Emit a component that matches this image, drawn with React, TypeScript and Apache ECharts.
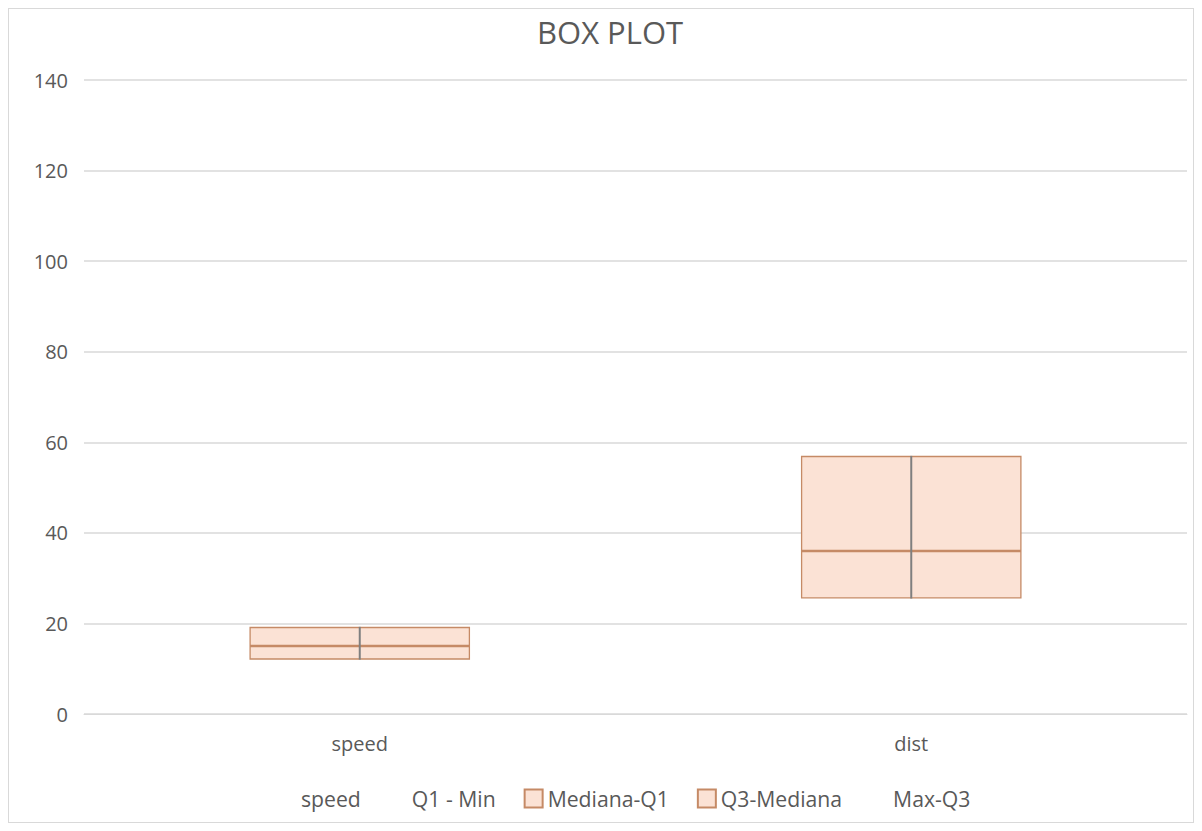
import React, { useEffect, useRef } from "react";
import * as echarts from "echarts";

const categories = ["speed", "dist"];
const minVals = [4, 2];
const q1MinusMin = [8, 23.5];
const medianMinusQ1 = [3, 10.5];
const q3MinusMedian = [4.25, 21];
const maxMinusQ3 = [5.75, 63];
const legendNames = ["speed", "Q1 - Min", "Mediana-Q1", "Q3-Mediana", "Max-Q3"];
const yTicks = { min: 0, max: 140, interval: 20 };

const FONT = "'Open Sans', 'Noto Sans', sans-serif";
const TEXT = "#595959";
const FILL = "#fbe2d5";
const EDGE = "#c58a66";

export default function App() {
  const ref = useRef<HTMLDivElement>(null);
  useEffect(() => {
    if (!ref.current) return;
    const chart = echarts.init(ref.current, undefined, { renderer: "svg" });
    const q1 = minVals.map((m, i) => m + q1MinusMin[i]);
    const q3 = q1.map((v, i) => v + medianMinusQ1[i] + q3MinusMedian[i]);
    const lineData = categories.map((_, i) => [i, q1[i], q3[i]]);
    const hidden = { color: "transparent", borderColor: "transparent" };
    const boxStyle = { color: FILL, borderColor: EDGE, borderWidth: 1.3 };
    const bar = (name: string, data: number[], style: any) => ({
      name,
      type: "bar",
      stack: "box",
      data,
      barWidth: "40%",
      itemStyle: style,
      emphasis: { disabled: true },
    });
    chart.setOption({
      animation: false,
      textStyle: { fontFamily: FONT },
      title: {
        text: "BOX PLOT",
        left: 523,
        top: 2,
        textStyle: { fontFamily: FONT, fontSize: 31, fontWeight: "normal", color: TEXT },
      },
      legend: {
        data: legendNames,
        bottom: 8,
        left: 264,
        icon: "rect",
        itemWidth: 18,
        itemHeight: 18,
        itemGap: 28,
        textStyle: { fontFamily: FONT, fontSize: 21.2, color: TEXT },
      },
      grid: { left: 75, right: 6, top: 71, bottom: 108 },
      xAxis: {
        type: "category",
        data: categories,
        axisLine: { show: true, lineStyle: { color: "#d9d9d9" } },
        axisTick: { show: false },
        axisLabel: { fontFamily: FONT, fontSize: 20, color: TEXT, margin: 19 },
      },
      yAxis: {
        type: "value",
        min: yTicks.min,
        max: yTicks.max,
        interval: yTicks.interval,
        axisLine: { show: false },
        axisTick: { show: false },
        splitLine: { lineStyle: { color: "#d9d9d9", width: 1.5 } },
        axisLabel: { fontFamily: FONT, fontSize: 20, color: TEXT, margin: 16 },
      },
      series: [
        bar("speed", minVals, hidden),
        bar("Q1 - Min", q1MinusMin, hidden),
        bar("Mediana-Q1", medianMinusQ1, boxStyle),
        bar("Q3-Mediana", q3MinusMedian, boxStyle),
        bar("Max-Q3", maxMinusQ3, hidden),
        {
          type: "custom",
          name: "iqr-line",
          data: lineData,
          z: 5,
          encode: { x: 0, y: [1, 2] },
          renderItem: (params: any, api: any) => {
            const a = api.coord([api.value(0), api.value(1)]);
            const b = api.coord([api.value(0), api.value(2)]);
            return {
              type: "line",
              shape: { x1: a[0], y1: a[1], x2: b[0], y2: b[1] },
              style: { stroke: "#7f7f7f", lineWidth: 2 },
            };
          },
        },
      ],
    });
    return () => chart.dispose();
  }, []);
  return (
    <div
      ref={ref}
      style={{ width: 1186, height: 815, border: "1px solid #d9d9d9", boxSizing: "border-box", background: "#fff" }}
    />
  );
}
